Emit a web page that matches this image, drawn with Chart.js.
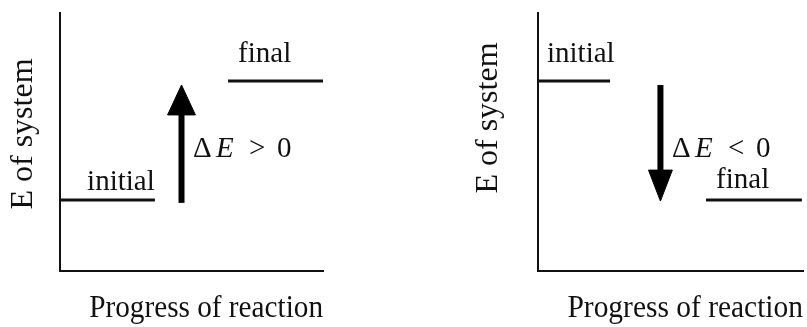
<!DOCTYPE html>
<html>
<head>
<meta charset="utf-8">
<script src="https://cdn.jsdelivr.net/npm/chart.js@4.4.1/dist/chart.umd.min.js"></script>
<style>
  html, body { margin: 0; padding: 0; background: #fff; }
  #wrap { position: relative; width: 807px; height: 327px; }
  #up { position: absolute; left: 0; top: 0; }
  #down { position: absolute; left: 400px; top: 0; }
</style>
</head>
<body>
<div id="wrap">
  <canvas id="up" width="400" height="327"></canvas>
  <canvas id="down" width="407" height="327"></canvas>
</div>
<script>
// Energy levels (arbitrary units, axis 0..10)
const stageNames = ['initial', 'final'];
const energyUp = [2.75, 7.36];      // left panel: energy goes up
const energyDown = [7.36, 2.75];    // right panel: energy goes down
const spanUp = [[0, 3.61], [6.39, 10]];
const spanDown = [[0, 2.72], [6.34, 9.96]];

// arrow: x, tail, head base, tip, head half width
const arrowUp = [4.62, 2.64, 6.05, 7.21, 0.53];
const arrowDown = [4.62, 7.21, 3.91, 2.71, 0.45];

// where the level names and the delta text sit (x, baseline y)
const namePosUp = [[1.03, 3.14], [6.77, 8.10]];
const namePosDown = [[0.34, 8.10], [6.72, 3.22]];
const deltaSign = ['>', '<'];
const deltaPos = [[5.06, 4.42], [5.06, 4.42]];

const yTitle = 'E of system';
const xTitle = 'Progress of reaction';

const INK = '#111';
const SERIF = "'Liberation Serif', 'Times New Roman', serif";

// draws the level names and the ΔE text at data coordinates
const textPlugin = {
  id: 'levelText',
  afterDatasetsDraw(chart, args, opts) {
    const {ctx, scales: {x, y}} = chart;
    ctx.save();
    ctx.fillStyle = INK;
    ctx.textBaseline = 'alphabetic';
    ctx.textAlign = 'left';
    ctx.font = '29px ' + SERIF;
    opts.names.forEach((p, i) => {
      ctx.fillText(stageNames[i], x.getPixelForValue(p[0]), y.getPixelForValue(p[1]));
    });
    const px = x.getPixelForValue(opts.delta[0]);
    const py = y.getPixelForValue(opts.delta[1]);
    ctx.fillText('\u0394', px, py);
    ctx.font = 'italic 29px ' + SERIF;
    ctx.fillText('E', px + 23, py);
    ctx.font = '29px ' + SERIF;
    ctx.fillText(opts.sign, px + 56, py);
    ctx.fillText('0', px + 84, py);
    ctx.restore();
  }
};

function levelSets(energy, span) {
  return energy.map((e, i) => ({
    label: stageNames[i],
    data: [{x: span[i][0], y: e}, {x: span[i][1], y: e}],
    borderColor: INK,
    borderWidth: 3,
    pointRadius: 0,
    fill: false
  }));
}

function arrowSets(a) {
  const [ax, tail, base, tip, half] = a;
  return [
    {
      label: 'shaft',
      data: [{x: ax, y: tail}, {x: ax, y: base}],
      borderColor: '#000',
      borderWidth: 6,
      borderCapStyle: 'butt',
      pointRadius: 0,
      fill: false
    },
    {
      label: 'head',
      data: [{x: ax - half, y: base}, {x: ax + half, y: base}, {x: ax, y: tip}, {x: ax - half, y: base}],
      borderColor: '#000',
      backgroundColor: '#000',
      borderWidth: 1,
      pointRadius: 0,
      fill: 'shape'
    }
  ];
}

function makeChart(id, energy, span, arrow, names, k, pad) {
  new Chart(document.getElementById(id), {
    type: 'line',
    data: {datasets: [...levelSets(energy, span), ...arrowSets(arrow)]},
    options: {
      responsive: false,
      animation: false,
      events: [],
      layout: {padding: {left: pad.left, right: pad.right, top: 13, bottom: 0}},
      plugins: {
        legend: {display: false},
        tooltip: {enabled: false},
        levelText: {names: names, sign: deltaSign[k], delta: deltaPos[k]}
      },
      scales: {
        x: {
          type: 'linear', min: 0, max: 10,
          grid: {display: false, drawTicks: false},
          ticks: {display: false},
          border: {display: true, color: INK, width: 2},
          title: {
            display: true,
            text: ' '.repeat(pad.xShift) + xTitle,
            color: INK,
            font: {family: SERIF, size: 31, lineHeight: 1},
            padding: {top: 22.5, bottom: 2.5}
          }
        },
        y: {
          type: 'linear', min: 0, max: 10,
          grid: {display: false, drawTicks: false},
          ticks: {display: false},
          border: {display: true, color: INK, width: 2},
          title: {
            display: true,
            text: ' '.repeat(pad.yShift) + yTitle,
            color: INK,
            font: {family: SERIF, size: 32, lineHeight: 1},
            padding: {top: 0, bottom: pad.yGap}
          }
        }
      }
    },
    plugins: [textPlugin]
  });
}

makeChart('up', energyUp, spanUp, arrowUp, namePosUp, 0, {left: 8, right: 77, yGap: 20, xShift: 4, yShift: 2});
makeChart('down', energyDown, spanDown, arrowDown, namePosDown, 1, {left: 73, right: 4, yGap: 33, xShift: 4, yShift: 6});
</script>
</body>
</html>
